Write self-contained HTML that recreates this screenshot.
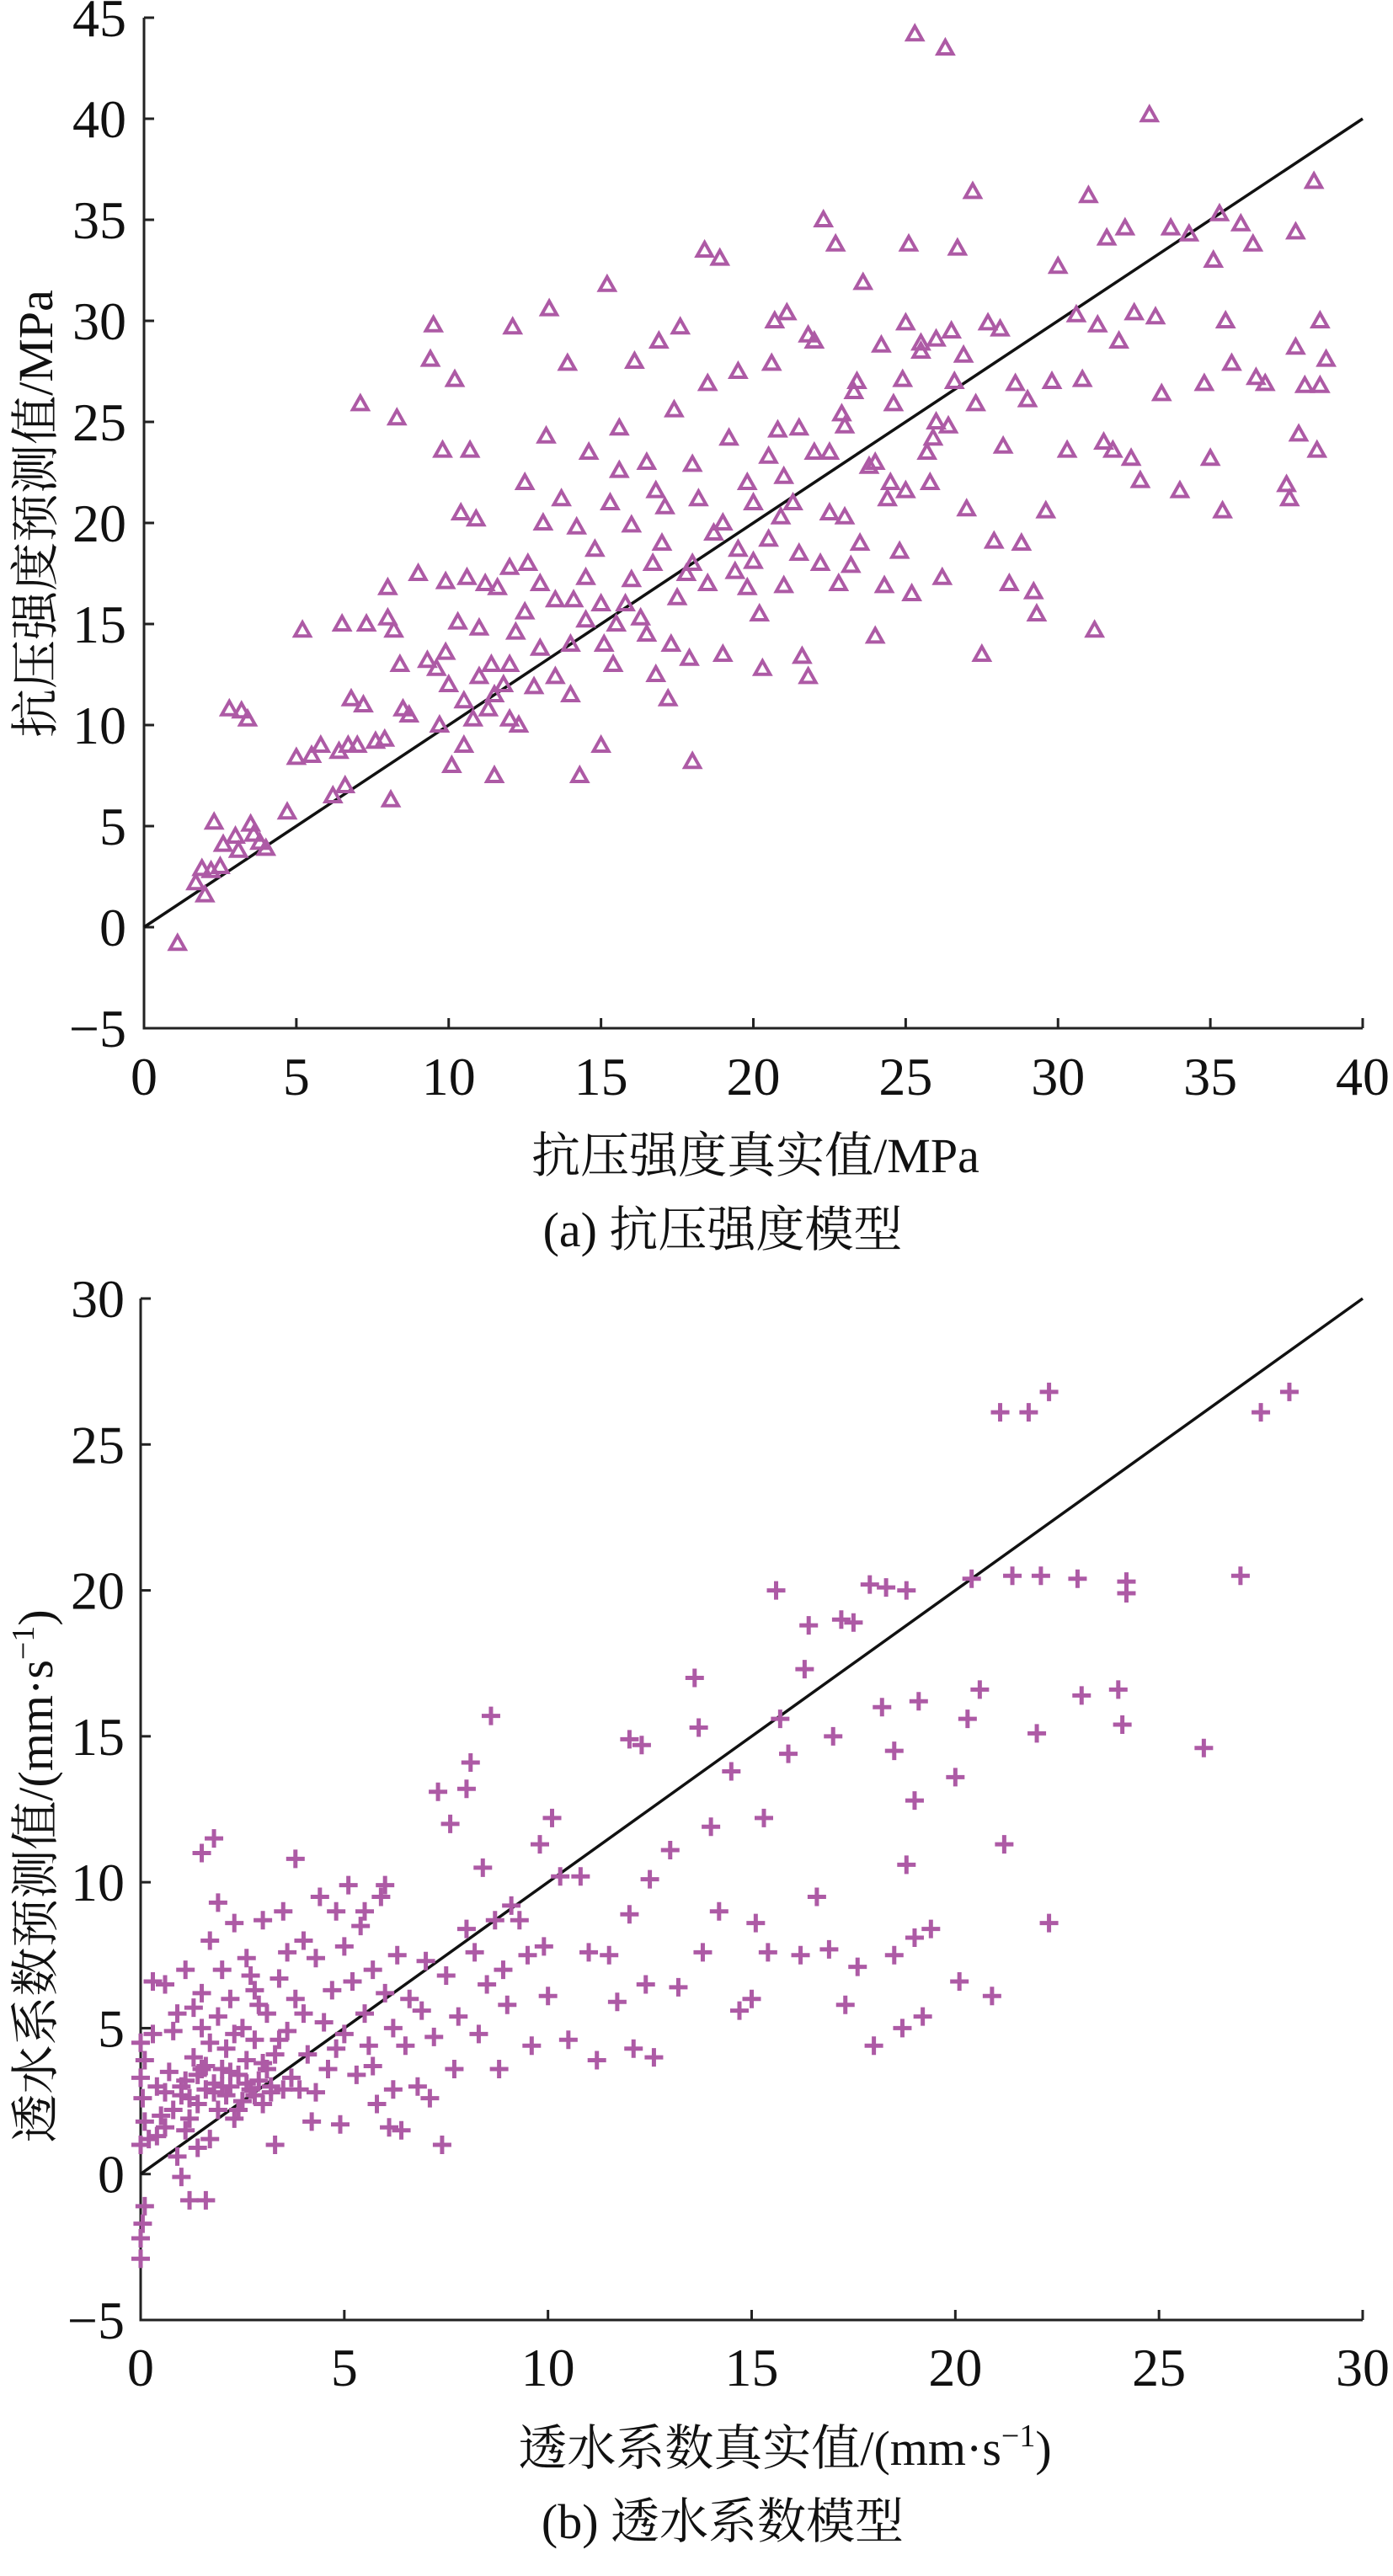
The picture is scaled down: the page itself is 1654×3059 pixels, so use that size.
<!DOCTYPE html>
<html><head><meta charset="utf-8"><style>
html,body{margin:0;padding:0;background:#fff;}
svg{display:block;}
text{font-family:"Liberation Serif","Noto Serif CJK SC",serif;fill:#111;}
</style></head><body>
<svg id="fig" width="1654" height="3059" viewBox="0 0 1654 3059" xmlns="http://www.w3.org/2000/svg">
<g id="chartA"></g>
<g id="chartB"></g>
<text x="897" y="1392" font-size="58" text-anchor="middle">抗压强度真实值/MPa</text>
<text x="858" y="1480" font-size="58" text-anchor="middle">(a) 抗压强度模型</text>
<text transform="translate(62,610) rotate(-90)" font-size="58" text-anchor="middle">抗压强度预测值/MPa</text>
<text x="932" y="2927" font-size="58" text-anchor="middle">透水系数真实值/(mm·s<tspan font-size="38" dy="-22">−1</tspan><tspan dy="22">)</tspan></text>
<text x="858" y="3014" font-size="58" text-anchor="middle">(b) 透水系数模型</text>
<text transform="translate(62,2228) rotate(-90)" font-size="58" text-anchor="middle">透水系数预测值/(mm·s<tspan font-size="38" dy="-22">−1</tspan><tspan dy="22">)</tspan></text>
</svg>
<script>
const xTicksA=[0,5,10,15,20,25,30,35,40];
const yTicksA=[-5,0,5,10,15,20,25,30,35,40,45];
const xTicksB=[0,5,10,15,20,25,30];
const yTicksB=[-5,0,5,10,15,20,25,30];
const actualA=[1.1,1.7,1.9,2.0,2.2,2.3,2.5,2.6,2.8,3.0,3.1,3.2,3.4,3.5,3.6,3.8,4.0,4.7,5.0,5.2,5.5,5.8,6.2,6.4,6.5,6.6,6.7,6.8,7.0,7.1,7.2,7.3,7.6,7.9,8.0,8.0,8.1,8.2,8.3,8.4,8.5,8.7,9.0,9.3,9.4,9.5,9.6,9.7,9.8,9.9,10.0,10.1,10.2,10.3,10.4,10.5,10.6,10.7,10.8,10.9,11.0,11.2,11.4,11.5,11.6,11.8,12.0,12.1,12.2,12.3,12.5,12.6,12.8,13.0,13.2,13.3,13.5,13.7,13.9,14.0,14.1,14.3,14.5,14.6,14.8,15.0,15.1,15.2,15.3,15.4,15.6,15.8,16.0,16.1,16.3,16.5,16.7,16.8,16.9,17.1,17.2,17.4,17.6,17.8,17.9,18.0,18.2,18.4,18.5,18.7,18.9,19.0,19.2,19.4,19.5,19.8,20.0,20.2,20.3,20.5,20.6,20.7,20.9,21.0,21.1,21.3,21.5,21.6,21.8,22.0,22.2,22.3,22.5,22.7,22.9,23.0,23.2,23.4,23.6,23.8,24.0,24.2,24.4,24.6,24.8,25.0,25.1,25.2,25.3,25.5,25.7,25.8,26.0,26.2,26.3,26.4,26.6,26.7,26.9,27.0,27.2,27.3,27.5,27.7,27.9,28.1,28.2,28.4,28.6,28.8,29.0,29.2,29.3,29.6,29.8,30.0,30.3,30.6,30.8,31.0,31.2,31.3,31.5,31.6,31.8,32.0,32.2,32.4,32.5,32.7,33.0,33.2,33.4,33.7,34.0,34.3,34.8,35.0,35.1,35.3,35.4,35.5,35.7,36.0,36.4,36.5,36.8,37.5,37.6,37.8,37.9,37.8,38.1,38.4,38.5,38.6,38.8,38.6,11.0,11.5,12.0,12.5,13.0,13.5,14.0,14.5,15.0,15.5,16.0,16.5,17.0,17.5,18.0,18.5,19.0,19.5,20.0,20.5,21.0,21.5,22.0,22.5,23.0,23.5,24.0,24.5,25.0,25.5,26.0,26.5,14.2,15.6,16.8,18.0,13.1,12.0,10.5,9.9,11.3,17.3,19.8,22.8,24.3,20.8,21.8,23.3,24.9,25.9];
const predA=[-0.8,2.2,2.9,1.6,2.8,5.2,3.0,4.1,10.8,4.5,3.8,10.7,10.3,5.1,4.6,4.2,3.9,5.7,8.4,14.7,8.5,9.0,6.5,8.7,15.0,7.0,9.0,11.3,9.0,25.9,11.0,15.0,9.2,9.3,16.8,15.3,6.3,14.7,25.2,13.0,10.8,10.5,17.5,13.2,28.1,29.8,12.8,10.0,23.6,17.1,12.0,8.0,27.1,15.1,20.5,9.0,17.3,23.6,10.3,20.2,12.4,17.0,13.0,7.5,16.8,12.0,17.8,29.7,14.6,10.0,22.0,18.0,11.9,17.0,24.3,30.6,16.2,21.2,27.9,11.5,16.2,7.5,17.3,23.5,18.7,9.0,14.0,31.8,21.0,13.0,24.7,16.0,19.9,28.0,15.3,23.0,18.0,12.5,29.0,20.8,11.3,25.6,29.7,17.5,13.3,8.2,21.2,33.5,26.9,19.5,33.1,13.5,24.2,17.6,27.5,22.0,18.1,15.5,12.8,23.3,27.9,30.0,20.3,16.9,30.4,21.0,24.7,13.4,12.4,29.0,18.0,35.0,23.5,33.8,25.4,20.3,17.9,27.0,31.9,22.8,14.4,28.8,21.2,25.9,18.6,29.9,33.8,16.5,44.2,28.9,23.5,22.0,29.1,17.3,43.5,24.8,27.0,33.6,28.3,20.7,36.4,25.9,13.5,29.9,19.1,29.6,23.8,17.0,26.9,19.0,26.1,16.6,15.5,20.6,27.0,32.7,23.6,30.3,27.1,36.2,14.7,29.8,24.0,34.1,23.6,29.0,34.6,23.2,30.4,22.1,40.2,30.2,26.4,34.6,21.6,34.3,26.9,23.2,33.0,35.3,20.6,30.0,27.9,34.8,33.8,27.2,26.9,21.9,21.2,28.7,24.4,34.4,26.8,36.9,23.6,30.0,28.1,26.8,14.8,11.5,13.0,15.6,13.8,12.4,14.0,15.2,16.0,15.0,17.2,14.5,19.0,16.3,18.0,17.0,20.0,18.7,21.0,19.2,22.3,18.5,23.5,20.5,24.8,19.0,23.0,22.0,21.6,28.5,25.0,29.5,19.8,22.6,21.6,22.9,20.0,10.3,11.2,13.6,10.8,14.0,16.8,17.0,16.9,24.6,29.3,26.5,27.1,24.2];
const actualB=[0.0,0.0,0.05,0.1,0.0,0.1,0.05,0.0,0.0,0.1,0.2,0.3,0.4,0.5,0.3,0.6,0.6,0.8,0.7,0.8,0.9,0.9,1.0,1.0,1.1,1.1,1.2,1.2,1.3,1.3,1.4,1.4,1.5,1.5,1.5,1.6,1.6,1.7,1.7,1.8,1.8,1.9,1.9,1.9,2.0,2.0,2.1,2.1,2.2,2.2,2.3,2.3,2.4,2.5,2.5,2.6,2.6,2.7,2.8,2.8,2.9,3.0,3.0,3.1,3.1,3.2,3.3,3.3,3.4,3.5,3.5,3.6,3.7,3.8,3.8,3.9,4.0,4.0,4.1,4.2,4.3,4.4,4.5,4.6,4.7,4.8,4.9,5.0,5.0,5.1,5.2,5.3,5.4,5.5,5.6,5.7,5.8,5.9,6.0,6.0,6.1,6.2,6.3,6.4,6.5,6.6,6.8,6.9,7.0,7.1,7.2,7.3,7.4,7.5,7.6,7.7,7.8,8.0,8.0,8.1,8.2,8.3,8.4,8.5,8.6,8.7,8.8,8.9,9.0,9.1,9.3,9.5,9.6,9.8,9.9,10.0,10.1,10.3,10.5,10.8,11.0,11.2,11.5,11.7,12.0,12.0,12.1,12.3,12.4,12.5,12.6,13.0,13.2,13.6,13.7,13.8,14.0,14.2,14.5,14.7,15.0,15.1,15.3,15.4,15.6,15.7,15.9,16.2,16.3,16.4,16.6,16.9,17.0,17.2,17.3,17.5,17.6,17.9,18.0,18.2,18.3,18.5,18.5,18.7,18.8,18.8,19.0,19.0,19.1,19.2,19.4,20.0,20.1,20.3,20.4,20.6,20.9,21.1,21.2,21.4,21.8,22.0,22.1,22.3,22.3,23.0,23.1,24.0,24.1,24.2,24.2,26.1,27.0,27.5,28.2,1.0,1.2,1.4,1.6,1.8,2.0,2.2,2.4,2.6,2.8,3.0,3.2,1.1,1.7,2.3,0.4,0.6,2.9,3.6,1.5,2.7,4.3,4.8,5.5,5.7,6.2,3.4];
const predB=[-2.9,-2.2,-1.7,-1.1,1.0,1.8,2.6,3.3,4.5,3.9,1.2,6.6,1.3,2.0,4.8,6.5,1.6,2.2,3.5,4.9,0.6,5.5,-0.1,2.7,3.2,7.0,-0.9,1.9,4.0,5.7,2.4,0.9,3.6,6.2,11.0,-0.9,2.9,4.5,8.0,11.5,3.1,2.2,5.4,9.3,3.6,7.0,2.7,4.3,6.0,3.0,1.9,8.6,3.4,5.0,2.5,7.4,3.9,2.9,4.6,6.3,3.2,8.7,2.4,3.6,5.5,2.8,4.1,1.0,6.7,2.9,9.0,4.9,3.3,10.8,6.0,2.9,5.5,8.0,4.1,1.8,7.4,9.5,5.2,3.6,6.3,9.0,1.7,7.8,4.8,9.9,6.6,3.4,8.5,5.5,4.4,7.0,2.4,9.5,9.9,6.2,1.6,5.0,7.5,1.5,4.4,6.0,3.0,5.6,7.3,2.6,4.7,13.1,1.0,6.8,12.0,3.6,5.4,13.2,8.4,14.1,7.6,4.8,10.5,6.5,15.7,8.7,3.6,7.0,5.8,9.2,8.7,7.5,4.4,11.3,7.8,6.1,12.2,10.2,4.6,10.2,7.6,3.9,7.5,5.9,8.9,14.9,4.3,14.7,6.5,10.1,4.0,11.1,6.4,17.0,15.3,7.6,11.9,9.0,13.8,5.6,6.0,8.6,12.2,7.6,20.0,15.6,14.4,7.5,17.3,18.8,9.5,7.7,15.0,19.0,5.8,18.9,7.1,20.2,4.4,16.0,20.1,14.5,7.5,5.0,20.0,10.6,12.8,8.1,16.2,5.4,8.4,13.6,6.6,15.6,20.4,16.6,6.1,26.1,11.3,20.5,26.1,15.1,20.5,26.8,8.6,20.4,16.4,16.6,15.4,20.3,19.9,14.6,20.5,26.1,26.8,3.0,2.6,3.4,3.7,2.8,3.0,3.5,2.2,3.1,2.7,3.8,3.0,1.5,1.2,4.8,3.0,2.8,5.8,7.6,5.0,6.8,2.8,4.3,9.0,3.7,2.9,4.6];

const NS="http://www.w3.org/2000/svg";
const MARK="#ad5aa5";
function mk(tag,attrs,parent){const e=document.createElementNS(NS,tag);for(const k in attrs)e.setAttribute(k,attrs[k]);parent.appendChild(e);return e;}

function drawChart(g,cfg){
  const X=v=>cfg.x0+(v-cfg.xmin)*(cfg.x1-cfg.x0)/(cfg.xmax-cfg.xmin);
  const Y=v=>cfg.y0-(v-cfg.ymin)*(cfg.y0-cfg.y1)/(cfg.ymax-cfg.ymin);
  const ax=mk('path',{d:`M${X(cfg.xmin)} ${Y(cfg.ymax)}L${X(cfg.xmin)} ${Y(cfg.ymin)}L${X(cfg.xmax)} ${Y(cfg.ymin)}`,fill:'none',stroke:'#222','stroke-width':3},g);
  
  
  cfg.xt.forEach(t=>{
    const l=mk('line',{x1:X(t),x2:X(t),y1:Y(cfg.ymin),y2:Y(cfg.ymin)-12,stroke:'#222','stroke-width':3},g);
    
    
    const tx=mk('text',{x:X(t),y:cfg.xlabY,'font-size':64,'text-anchor':'middle'},g);
    tx.textContent=t<0?'−'+(-t):String(t);
    
    
  });
  cfg.yt.forEach(t=>{
    const l=mk('line',{x1:X(cfg.xmin),x2:X(cfg.xmin)+12,y1:Y(t),y2:Y(t),stroke:'#222','stroke-width':3},g);
    
    
    const tx=mk('text',{x:cfg.ylabX,y:Y(t)+22,'font-size':64,'text-anchor':'end'},g);
    tx.textContent=t<0?'−'+(-t):String(t);
    
    
  });
  const ln=mk('line',{x1:X(0),y1:Y(0),x2:X(cfg.xmax),y2:Y(cfg.xmax),stroke:'#111','stroke-width':3.5},g);
  
  
  cfg.xs.forEach((xv,i)=>{
    const px=X(xv),py=Y(cfg.ys[i]);
    let m;
    if(cfg.marker==='tri'){
      m=mk('path',{d:`M${px} ${py-9}L${px+9} ${py+7}L${px-9} ${py+7}Z`,fill:'none',stroke:MARK,'stroke-width':4},g);
    }else{
      m=mk('path',{d:`M${px-11} ${py}H${px+11}M${px} ${py-11}V${py+11}`,fill:'none',stroke:MARK,'stroke-width':5},g);
    }
    
    
  });
}
drawChart(document.getElementById('chartA'),{x0:171,x1:1618,xmin:0,xmax:40,y0:1221,y1:21,ymin:-5,ymax:45,xt:xTicksA,yt:yTicksA,xlabY:1300,ylabX:150,xs:actualA,ys:predA,marker:'tri'});
drawChart(document.getElementById('chartB'),{x0:167,x1:1618,xmin:0,xmax:30,y0:2755,y1:1542,ymin:-5,ymax:30,xt:xTicksB,yt:yTicksB,xlabY:2833,ylabX:148,xs:actualB,ys:predB,marker:'plus'});
</script>
</body></html>
